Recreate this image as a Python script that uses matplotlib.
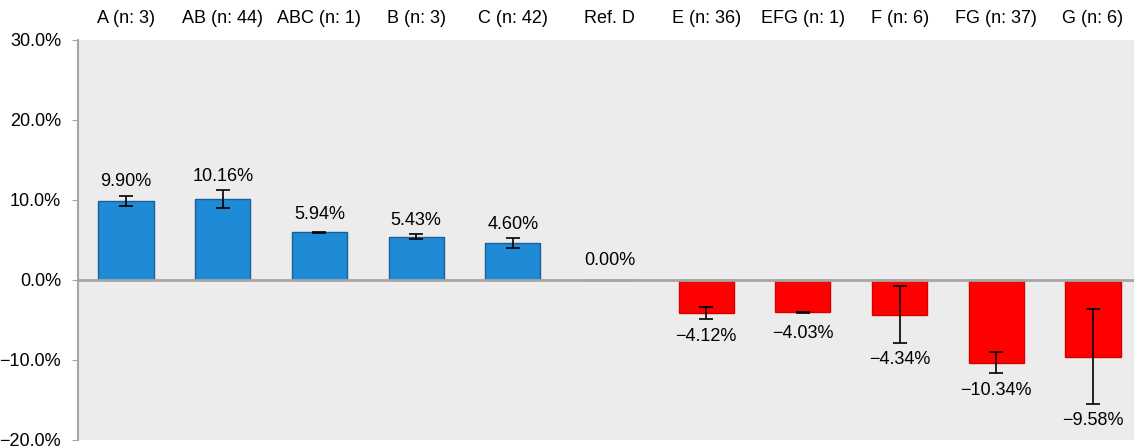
import numpy as np
import matplotlib
matplotlib.use("Agg")
import matplotlib.pyplot as plt
from matplotlib.ticker import FuncFormatter

plt.rcParams['font.family'] = ['Liberation Sans', 'DejaVu Sans']

# ==== Data ====
categories = ["A (n: 3)", "AB (n: 44)", "ABC (n: 1)", "B (n: 3)", "C (n: 42)", "Ref. D",
              "E (n: 36)", "EFG (n: 1)", "F (n: 6)", "FG (n: 37)", "G (n: 6)"]
values = [9.90, 10.16, 5.94, 5.43, 4.60, 0.00, -4.12, -4.03, -4.34, -10.34, -9.58]
errors = [0.65, 1.1, 0.05, 0.27, 0.65, 0.0, 0.8, 0.05, 3.55, 1.33, 5.9]
# ==============

x = np.arange(len(categories))
fill = ['#1f8ad6' if v >= 0 else '#ff0000' for v in values]
edge = ['#1b5f96' if v >= 0 else '#d40000' for v in values]

fig = plt.figure(figsize=(11.34, 4.48), dpi=100)
ax = fig.add_axes([77.65 / 1134, 8 / 448, 1063.7 / 1134, 400 / 448])
ax.set_facecolor('#ececec')

ax.bar(x, values, width=0.57, color=fill, edgecolor=edge, linewidth=1.0, zorder=2)
has_err = [e > 0 for e in errors]
ax.errorbar(x[has_err], np.array(values)[has_err], yerr=np.array(errors)[has_err],
            fmt='none', ecolor='black', elinewidth=1.2, capsize=5, capthick=1.2, zorder=3)

ax.axhline(0, color='#a6a6a6', linewidth=2, zorder=2.5)

# value labels beyond the end of each error bar
for xi, v, e in zip(x, values, errors):
    if v >= 0:
        if e == 0:
            off = 14
        elif e > 0.1:
            off = 10
        else:
            off = 12.5
        ax.annotate(f"{v:.2f}%", (xi, v + e), xytext=(0, off), textcoords='offset points',
                    ha='center', va='center', fontsize=13)
    else:
        off = 12 if e > 0.1 else 15
        ax.annotate(f"\u2212{abs(v):.2f}%", (xi, v - e), xytext=(0, -off), textcoords='offset points',
                    ha='center', va='center', fontsize=13)

ax.set_xlim(-0.5, len(categories) - 0.5)
ax.set_ylim(-20, 30)
ax.set_yticks([-20, -10, 0, 10, 20, 30])
ax.yaxis.set_major_formatter(FuncFormatter(lambda v, p: f"{v:.1f}%".replace('-', '\u2212')))
ax.tick_params(axis='y', length=4, color='#a6a6a6', labelsize=13, pad=8)

ax.xaxis.tick_top()
ax.set_xticks(x)
ax.set_xticklabels(categories, fontsize=13)
ax.tick_params(axis='x', length=0, pad=9)

for s in ['top', 'right', 'bottom']:
    ax.spines[s].set_visible(False)
ax.spines['left'].set_color('#a6a6a6')
ax.spines['left'].set_linewidth(1.5)

fig.savefig("out.png", dpi=100)
